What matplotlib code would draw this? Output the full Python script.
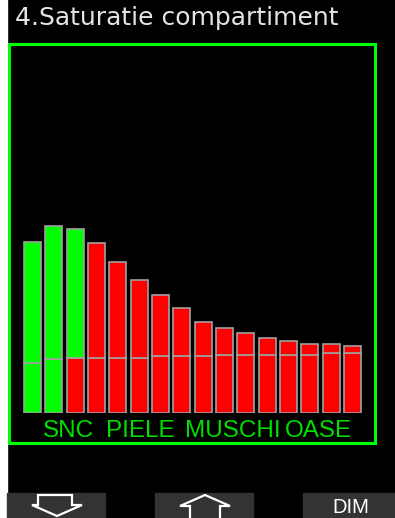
import matplotlib
matplotlib.use("Agg")
import matplotlib.pyplot as plt
from matplotlib.patches import Rectangle, Polygon

# ---- data ----
compartments = list(range(1, 17))
saturation = [171, 187, 184, 170, 151, 133, 118, 105, 91, 85, 80, 75, 72, 69, 69, 67]
marker_level = [50, 54, 55, 55, 55, 55, 57, 57, 57, 58, 58, 58, 58, 58, 60, 60]
upper_colors = ["green", "green", "green"] + ["red"] * 13
lower_colors = ["green", "green"] + ["red"] * 14
title = "4.Saturatie compartiment"
group_labels = ["SNC", "PIELE", "MUSCHI", "OASE"]
button_labels = ["down", "up", "DIM"]

W, H = 395, 518
GREEN = "#00ff00"
RED = "#ff0000"
cmap = {"green": GREEN, "red": RED}

fig = plt.figure(figsize=(W / 100, H / 100), dpi=100, facecolor="black")

# overlay axes in pixel coordinates
bg = fig.add_axes([0, 0, 1, 1])
bg.set_xlim(0, W)
bg.set_ylim(H, 0)
bg.axis("off")
bg.set_facecolor("black")
bg.add_patch(Rectangle((0, 0), W, H, color="black", zorder=0))
bg.add_patch(Rectangle((0, 0), 7, H, color="white", zorder=1))

# title
bg.text(15, 25, title, color="#e4e4e4", fontsize=18, family="DejaVu Sans",
        ha="left", va="baseline")

# frame
bg.add_patch(Rectangle((8.5, 44), 375 - 8.5, 443 - 44, fill=False,
                       edgecolor=GREEN, linewidth=2.2, zorder=2))

# group labels
label_x = [43, 106, 185, 285]
for lab, x in zip(group_labels, label_x):
    bg.text(x, 437, lab, color="#00e000", fontsize=17.5, family="Liberation Sans",
            ha="left", va="baseline")

# buttons
btn_x = [(7, 105), (155, 253), (303, 395)]
for (x0, x1) in btn_x:
    bg.add_patch(Rectangle((x0, 493), x1 - x0, H - 493, color="#333333", zorder=2))
down = [(38, 495), (72, 495), (72, 505), (82, 505), (57, 516), (32, 505), (38, 505)]
up = [(190, 520), (190, 506), (180, 506), (205, 495), (230, 506), (220, 506), (220, 520)]
bg.add_patch(Polygon(down, closed=True, fill=False, edgecolor="white", linewidth=1.6, zorder=3))
bg.add_patch(Polygon(up, closed=True, fill=False, edgecolor="white", linewidth=1.6, zorder=3))
bg.text(351, 513, button_labels[2], color="white", fontsize=14.5, family="Liberation Sans",
        ha="center", va="baseline", zorder=4)

# bar chart axes
left_px, right_px = 21.83, 363.17
bottom_px, top_px = 413, 213
ax = fig.add_axes([left_px / W, (H - bottom_px) / H, (right_px - left_px) / W,
                   (bottom_px - top_px) / H])
ax.set_facecolor("none")
ax.set_xlim(0.5, 16.5)
ax.set_ylim(0, 200)
ax.axis("off")

upper_h = [s - m for s, m in zip(saturation, marker_level)]
ax.bar(compartments, marker_level, width=0.79,
       color=[cmap[c] for c in lower_colors], edgecolor="#a0a0a0", linewidth=1.2)
ax.bar(compartments, upper_h, bottom=marker_level, width=0.79,
       color=[cmap[c] for c in upper_colors], edgecolor="#a0a0a0", linewidth=1.2)

fig.savefig("out.png", dpi=100, facecolor="black")
